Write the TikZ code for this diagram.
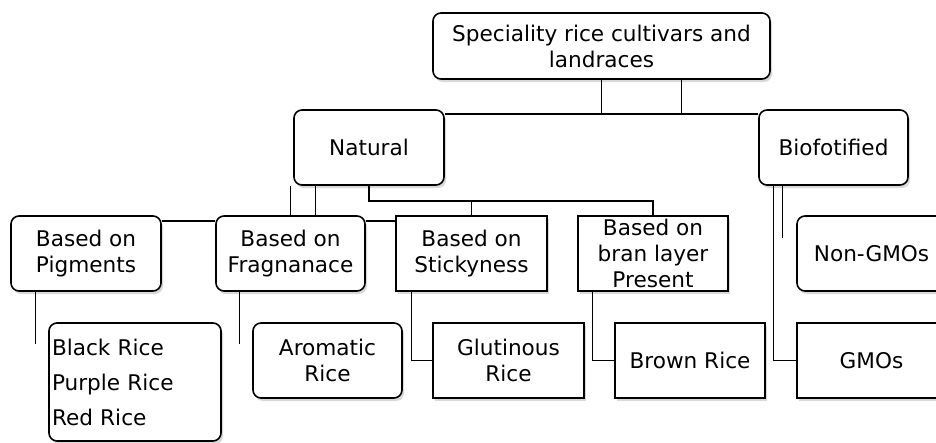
\documentclass[tikz,border=0pt]{standalone}
\usepackage{fontspec}
\setmainfont{DejaVu Sans}
\usetikzlibrary{
    shadows
}

\begin{document}
\begin{tikzpicture}[x=1pt, y=-1pt,
    box/.style={draw, line width=1.6pt, fill=white, inner sep=2pt, align=center,
        minimum width=150pt, minimum height=75pt,
        font=\fontsize{21.6}{26}\selectfont,
        drop shadow={opacity=0.3, shadow xshift=2pt, shadow yshift=-3pt}},
    rbox/.style={box, rounded corners=8pt},
    link/.style={line width=1.1pt}]
    \useasboundingbox (0,0) rectangle (936,442);
    \clip (0,0) rectangle (936,442);

    \node[rbox, minimum width=337pt, minimum height=66pt] (top) at (601.5,46)
        {Speciality rice cultivars and\\landraces};
    \node[rbox] (nat) at (369,147.5) {Natural};
    \node[rbox, minimum width=149pt] (bio) at (833.5,147.5) {Biofotified};

    \node[rbox] (pig) at (86,253.5) {Based on\\Pigments};
    \node[rbox, minimum width=149pt] (fra) at (290.5,253.5) {Based on\\Fragnanace};
    \node[box, minimum width=151pt] (sti) at (471.5,253.5) {Based on\\Stickyness};
    \node[box] (bra) at (653,253.5) {Based on\\bran layer\\Present};
    \node[rbox, minimum width=149pt] (ngm) at (871.5,253.5) {Non-GMOs};

    \node[rbox, minimum width=172pt, minimum height=118pt, align=left, text width=166pt]
        (rice) at (135,382) {Black Rice\\[9pt]Purple Rice\\[9pt]Red Rice};
    \node[rbox, minimum width=149pt] (aro) at (327.5,360.5) {Aromatic\\Rice};
    \node[box, minimum width=151pt] (glu) at (508.5,360.5) {Glutinous\\Rice};
    \node[box] (brw) at (690,360.5) {Brown Rice};
    \node[box, minimum width=149pt] (gmo) at (871.5,360.5) {GMOs};

    \coordinate (bus0) at (0,114);
    \coordinate (bus1) at (0,201);
    \coordinate (bus2) at (0,221);

    % top level
    \draw[link] (top.south) -- ++(0,35) -| ([xshift=80pt]top.south);
    \draw[link] (nat.east |- bus0) -- (bio.west |- bus0);

    % natural
    \draw[link] (fra.north) -- (fra.north |- nat.south);
    \draw[link] ([xshift=25pt]fra.north) -- ([xshift=25pt]fra.north |- nat.south);
    \draw[link] (nat.south) |- (bra.north |- bus1) -- (bra.north);
    \draw[link] (sti.north |- bus1) -- (sti.north);
    \draw[link] (pig.east |- bus2) -- (fra.west |- bus2);
    \draw[link] (fra.east |- bus2) -- (sti.west |- bus2);

    % lower level
    \draw[link] ([xshift=25pt]pig.south west) -- ++(0,52);
    \draw[link] ([xshift=24pt]fra.south west) -- ++(0,52);
    \draw[link] ([xshift=16pt]sti.south west) |- (glu.west);
    \draw[link] ([xshift=15pt]bra.south west) |- (brw.west);

    % biofortified
    \draw[link] ([xshift=15pt]bio.south west) |- (gmo.west);
    \draw[link] ([xshift=24pt]bio.south west) -- ++(0,52);
\end{tikzpicture}
\end{document}
